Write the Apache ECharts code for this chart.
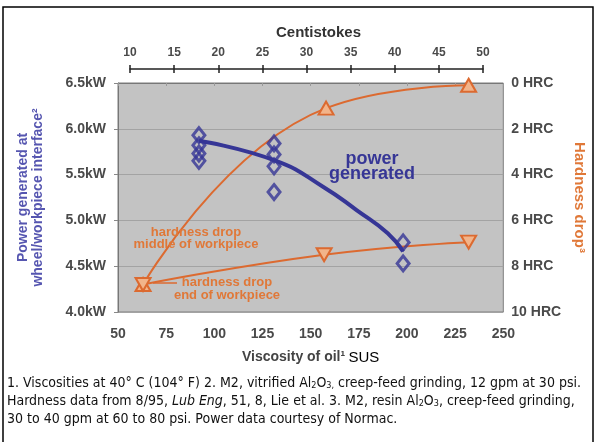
<!DOCTYPE html>
<html>
<head>
<meta charset="utf-8">
<script src="https://cdn.jsdelivr.net/npm/echarts@6/dist/echarts.min.js"></script>
<style>
  html, body { margin: 0; padding: 0; background: #fff; }
  #chart { width: 595px; height: 442px; }
</style>
</head>
<body>
<div id="chart"></div>
<script>
// power readings (SUS, kW)
const powerSus = [92, 92, 92, 92, 131, 131, 131, 131, 198, 198];
const powerKw = [5.93, 5.82, 5.73, 5.65, 5.84, 5.72, 5.59, 5.31, 4.76, 4.53];
// fitted power curve
const fitSus = [92, 132, 157, 174, 190, 198];
const fitKw = [5.87, 5.65, 5.36, 5.11, 4.86, 4.66];
// hardness drop (HRC)
const middleSus = [63, 158, 232];
const middleHrc = [8.8, 1.1, 0.1];
const endSus = [63, 157, 232];
const endHrc = [8.8, 7.5, 6.95];

const caption = [
  '1. Viscosities at 40° C (104° F) 2. M2, vitrified Al{sub|2}O{sub|3,} creep-feed grinding, 12 gpm at 30 psi.',
  'Hardness data from 8/95, {i|Lub Eng}, 51, 8, Lie et al. 3. M2, resin Al{sub|2}O{sub|3}, creep-feed grinding,',
  '30 to 40 gpm at 60 to 80 psi. Power data courtesy of Normac.'
];

const blue = '#363696';
const orange = '#dc6a30';
const font = 'Liberation Sans, Arial, sans-serif';
const narrow = '"Liberation Sans Narrow", "DejaVu Sans Condensed", sans-serif';

const pairs = (xs, ys) => xs.map((x, i) => [x, ys[i]]);

let chart = echarts.init(document.getElementById('chart'));

let tickLabel = { fontFamily: font, fontSize: 14, fontWeight: 'bold', color: '#4a4a4a' };

let option = {
  backgroundColor: '#fff',
  animation: false,
  grid: [
    { left: 118, top: 83, width: 392, height: 229, show: true,
      backgroundColor: '#c3c3c3', borderColor: '#7d7d7d', borderWidth: 1 },
    { left: 130, top: 68, width: 353, height: 1 }
  ],
  xAxis: [
    {
      type: 'value', gridIndex: 0, min: 50, max: 250, interval: 25,
      splitLine: { show: false },
      axisLine: { lineStyle: { color: '#777' } },
      axisTick: { length: 3, lineStyle: { color: '#999' } },
      axisLabel: Object.assign({ margin: 15 }, tickLabel),
      name: '{b|Viscosity of oil¹} {n|SUS}',
      nameLocation: 'middle', nameGap: 38,
      nameTextStyle: {
        rich: {
          b: { fontFamily: font, fontSize: 14, fontWeight: 'bold', color: '#444' },
          n: { fontFamily: font, fontSize: 15, color: '#000' }
        }
      }
    },
    {
      type: 'value', gridIndex: 1, position: 'top', min: 10, max: 50, interval: 5,
      splitLine: { show: false },
      axisLine: { lineStyle: { color: '#222', width: 1.5 } },
      axisTick: { length: 4, lineStyle: { color: '#222', width: 1.5 } },
      axisLabel: { margin: 9, fontFamily: font, fontSize: 12, fontWeight: 'bold', color: '#4a4a4a' },
      name: 'Centistokes', nameLocation: 'middle', nameGap: 28,
      nameTextStyle: { fontFamily: font, fontSize: 15, fontWeight: 'bold', color: '#333', padding: [0, 0, 0, 24] }
    },
    {
      type: 'value', gridIndex: 1, position: 'bottom', min: 10, max: 50, interval: 5,
      splitLine: { show: false }, axisLine: { show: false }, axisLabel: { show: false },
      axisTick: { length: 4, lineStyle: { color: '#222', width: 1.5 } }
    }
  ],
  yAxis: [
    {
      type: 'value', gridIndex: 0, min: 4, max: 6.5, interval: 0.5,
      axisLine: { show: true, lineStyle: { color: '#777' } },
      axisTick: { show: true, length: 4, lineStyle: { color: '#888' } },
      splitLine: { lineStyle: { color: '#a3a3a3' } },
      axisLabel: Object.assign({ margin: 12, formatter: v => v.toFixed(1) + 'kW' }, tickLabel),
      name: 'Power generated at\nwheel/workpiece interface²',
      nameLocation: 'middle', nameRotate: 90, nameGap: 72,
      nameTextStyle: { fontFamily: font, fontSize: 14, fontWeight: 'bold', color: '#5656b0', lineHeight: 15 }
    },
    {
      type: 'value', gridIndex: 0, position: 'right', min: 0, max: 10, interval: 2, inverse: true,
      axisLine: { show: false }, axisTick: { show: false }, splitLine: { show: false },
      axisLabel: Object.assign({ margin: 8, formatter: '{value} HRC' }, tickLabel),
      name: 'Hardness drop³', nameLocation: 'middle', nameRotate: -90, nameGap: 55,
      nameTextStyle: { fontFamily: font, fontSize: 15, fontWeight: 'bold', color: '#e07838' }
    },
    { type: 'value', gridIndex: 1, show: false }
  ],
  series: [
    {
      name: 'power fit', type: 'line', xAxisIndex: 0, yAxisIndex: 0,
      data: pairs(fitSus, fitKw), smooth: true, showSymbol: false,
      lineStyle: { color: blue, width: 4 }, z: 3
    },
    {
      name: 'power', type: 'scatter', xAxisIndex: 0, yAxisIndex: 0,
      data: pairs(powerSus, powerKw), symbol: 'diamond', symbolSize: [12, 15],
      itemStyle: { color: 'rgba(0,0,0,0)', borderColor: blue, borderWidth: 3 }, z: 4
    },
    {
      name: 'hardness middle', type: 'line', xAxisIndex: 0, yAxisIndex: 1,
      data: pairs(middleSus, middleHrc), smooth: true,
      symbol: 'triangle', symbolSize: [15, 13], showAllSymbol: true,
      lineStyle: { color: orange, width: 2 },
      itemStyle: { color: '#f2b48a', borderColor: orange, borderWidth: 2 }, z: 2
    },
    {
      name: 'hardness end', type: 'line', xAxisIndex: 0, yAxisIndex: 1,
      data: pairs(endSus, endHrc), smooth: true,
      symbol: 'triangle', symbolRotate: 180, symbolSize: [15, 13], showAllSymbol: true,
      lineStyle: { color: orange, width: 2 },
      itemStyle: { color: '#f2b48a', borderColor: orange, borderWidth: 2 }, z: 2
    }
  ],
  graphic: [
    { type: 'rect', shape: { x: 3, y: 7, width: 590, height: 440 },
      style: { fill: 'none', stroke: '#000', lineWidth: 1.5 }, silent: true },
    { type: 'text', x: 372, y: 167, z: 10,
      style: { text: 'power\ngenerated', fill: blue, fontFamily: font, fontSize: 18, fontWeight: 'bold',
               align: 'center', verticalAlign: 'middle', lineHeight: 15 } },
    { type: 'text', x: 196, y: 238, z: 10,
      style: { text: 'hardness drop\nmiddle of workpiece', fill: '#e07838', fontFamily: font, fontSize: 13,
               fontWeight: 'bold', align: 'center', verticalAlign: 'middle', lineHeight: 12 } },
    { type: 'text', x: 227, y: 289, z: 10,
      style: { text: 'hardness drop\nend of workpiece', fill: '#e07838', fontFamily: font, fontSize: 13,
               fontWeight: 'bold', align: 'center', verticalAlign: 'middle', lineHeight: 12.5 } },
    { type: 'line', shape: { x1: 153, y1: 283, x2: 177, y2: 283 }, z: 10,
      style: { stroke: orange, lineWidth: 1.5 } }
  ].concat(caption.map((t, i) => ({
    type: 'text', x: 7, y: 383 + i * 18, z: 10,
    style: {
      text: t, fill: '#111', fontFamily: narrow, fontSize: 14, verticalAlign: 'middle',
      rich: {
        sub: { fontFamily: narrow, fontSize: 9, fill: '#111', verticalAlign: 'bottom', lineHeight: 9, padding: [9, 0, 0, 0] },
        i: { fontFamily: narrow, fontSize: 14, fontStyle: 'italic', fill: '#111' }
      }
    }
  })))
};

chart.setOption(option);
</script>
</body>
</html>
